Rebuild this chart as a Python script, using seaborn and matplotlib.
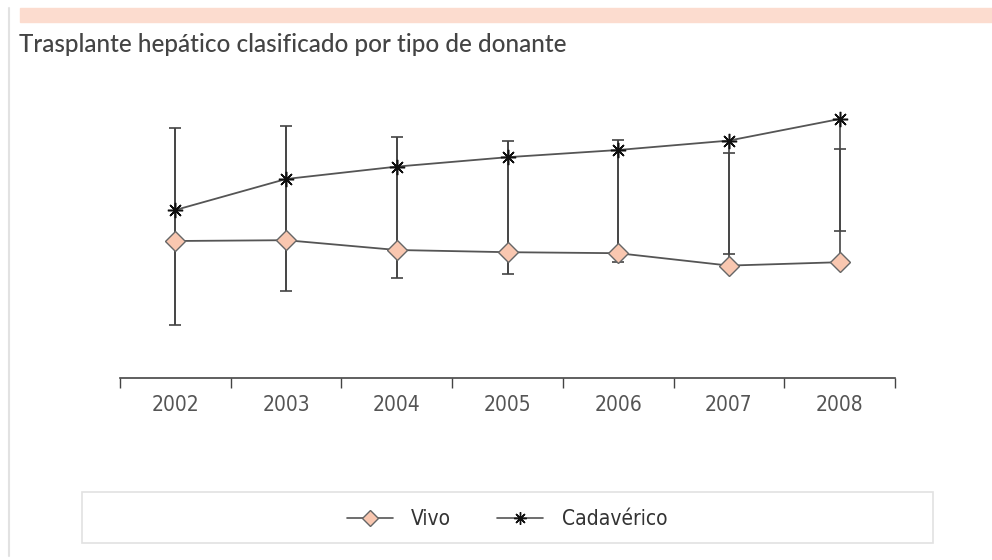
import numpy as np
import pandas as pd
import matplotlib
matplotlib.use("Agg")
import matplotlib.pyplot as plt
from matplotlib.patches import Rectangle
from matplotlib.lines import Line2D
import seaborn as sns

# values (no y axis shown, arbitrary units)
years = ["2002", "2003", "2004", "2005", "2006", "2007", "2008"]
vivo = [68.5, 68.9, 64.0, 62.9, 62.4, 56.2, 57.9]
cadaverico = [84.0, 99.5, 105.7, 110.4, 114.0, 118.7, 129.5]
range_high = [125.0, 126.2, 120.5, 118.7, 119.0, 112.5, 114.7]
range_low = [26.5, 43.7, 49.9, 51.9, 57.9, 62.2, 73.3]

sns.set_theme(style="white")
narrow = ["DejaVu Sans"]
title_font = ["Lato", "DejaVu Sans"]

df = pd.DataFrame({
    "year": years * 2,
    "valor": vivo + cadaverico,
    "donante": ["Vivo"] * len(years) + ["Cadavérico"] * len(years),
})
df["x"] = df["year"].map({y: i for i, y in enumerate(years)})

fig = plt.figure(figsize=(9.92, 5.6), dpi=100)
ax = fig.add_axes([120 / 992, 182 / 560, 775 / 992, 280 / 560])

# vertical stems and caps
xs = np.arange(len(years))
stem_lo = np.minimum.reduce([np.array(vivo), np.array(range_low), np.array(cadaverico)])
stem_hi = np.maximum.reduce([np.array(cadaverico), np.array(range_high), np.array(vivo)])
ax.vlines(xs, stem_lo, stem_hi, color="#444444", lw=1.2, zorder=1)
lo = np.array(range_low)
hi = np.array(range_high)
ax.errorbar(xs, (lo + hi) / 2, yerr=(hi - lo) / 2, fmt="none", ecolor="#444444",
            elinewidth=1.2, capsize=4, capthick=1.2, zorder=1)

sns.lineplot(data=df[df["donante"] == "Vivo"], x="x", y="valor", ax=ax, color="#555555",
             lw=1.3, marker="D", markersize=10, markerfacecolor="#F9C7B0",
             markeredgecolor="#666666", markeredgewidth=1.0, zorder=3, legend=False)
sns.lineplot(data=df[df["donante"] == "Cadavérico"], x="x", y="valor", ax=ax, color="#555555",
             lw=1.3, marker=(8, 2, 0), markersize=11, markeredgecolor="#111111",
             markeredgewidth=1.1, zorder=3, legend=False)

ax.set_xlim(-0.5, len(years) - 0.5)
ax.set_ylim(0, 140)
ax.set_xlabel("")
ax.set_ylabel("")
ax.set_yticks([])
ax.set_xticks(xs)
ax.set_xticklabels(years, fontsize=15, color="#555555", family=narrow, stretch="condensed")
ax.set_xticks(np.arange(-0.5, len(years), 1.0), minor=True)
ax.tick_params(axis="x", which="major", length=0, pad=12)
ax.tick_params(axis="x", which="minor", length=7, width=1, color="#444444", direction="out", bottom=True)
for side in ["top", "right", "left"]:
    ax.spines[side].set_visible(False)
ax.spines["bottom"].set_color("#444444")
ax.spines["bottom"].set_linewidth(1.2)
ax.grid(False)

# header band, title, left rule
fig.patches.append(Rectangle((20 / 992, 1 - 22 / 560), 972 / 992, 14 / 560,
                             transform=fig.transFigure, color="#FCDCCF", zorder=0))
fig.lines.append(Line2D([8.5 / 992, 8.5 / 992], [1 - 8 / 560, 1 - 556 / 560],
                        transform=fig.transFigure, color="#E2E2E2", lw=1.5))
fig.text(19 / 992, 1 - 45 / 560, "Trasplante hepático clasificado por tipo de donante",
         fontsize=17.5, color="#444444", family=title_font, weight="medium",
         va="center", ha="left")

# legend box
fig.patches.append(Rectangle((82 / 992, 1 - 543 / 560), 851 / 992, 51 / 560,
                             transform=fig.transFigure, facecolor="white",
                             edgecolor="#E2E2E2", lw=1.2, zorder=0))
handles = [
    Line2D([], [], color="#555555", lw=1.2, marker="D", markersize=8,
           markerfacecolor="#F9C7B0", markeredgecolor="#666666"),
    Line2D([], [], color="#555555", lw=1.2, marker=(8, 2, 0), markersize=9,
           markeredgecolor="#111111"),
]
leg = fig.legend(handles, ["Vivo", "Cadavérico"], loc="center", ncol=2,
                 bbox_to_anchor=(507 / 992, 1 - 519 / 560), frameon=False,
                 handlelength=2.2, columnspacing=2.2, handletextpad=0.9,
                 prop={"family": narrow, "size": 15, "stretch": "condensed"})
for t in leg.get_texts():
    t.set_color("#333333")

fig.savefig("out.png", dpi=100)
